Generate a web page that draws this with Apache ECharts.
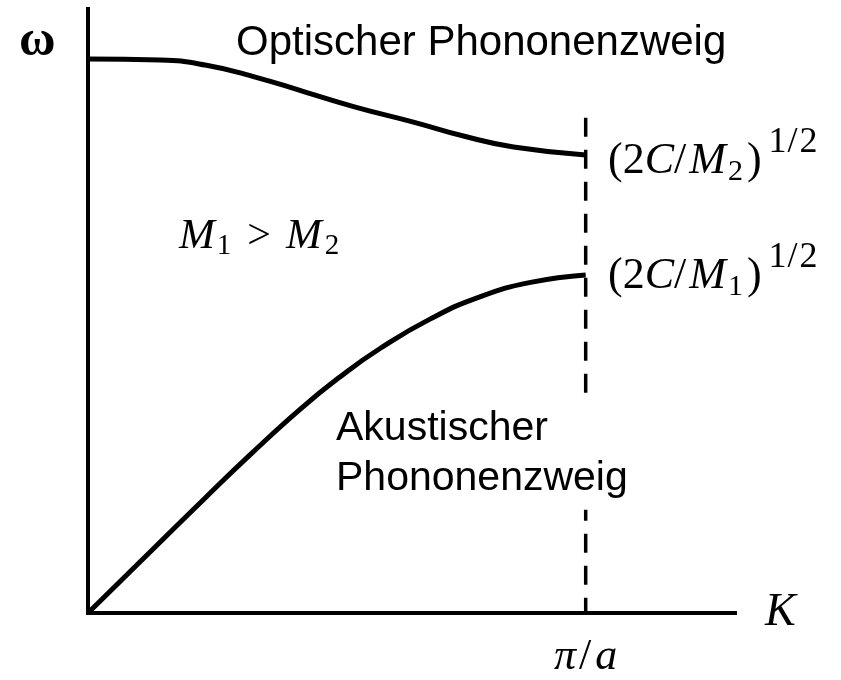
<!DOCTYPE html>
<html>
<head>
<meta charset="utf-8">
<script src="https://cdn.jsdelivr.net/npm/echarts@6/dist/echarts.min.js"></script>
<style>
  html, body { margin: 0; padding: 0; background: #fff; }
  #chart { width: 841px; height: 680px; }
</style>
</head>
<body>
<div id="chart"></div>
<script>
// Wave vector K in units of the zone boundary pi/a, frequency in arbitrary units
const kAcoustic = [0, 0.1247, 0.2354, 0.3260, 0.4266, 0.5070, 0.5875, 0.6881, 0.7887, 0.8893, 1.0];
const omegaAcoustic = [0, 0.606, 1.143, 1.573, 2.026, 2.348, 2.630, 2.922, 3.143, 3.284, 3.358];
const kOptical = [0, 0.1449, 0.2354, 0.3360, 0.4366, 0.5372, 0.6539, 0.7545, 0.8551, 1.0];
const omegaOptical = [5.503, 5.493, 5.443, 5.324, 5.175, 5.026, 4.877, 4.738, 4.629, 4.550];

// Zone boundary guide line
const zoneBoundary = 1.0;
const guideTop = 4.92;

// Axis extents
const kMax = 1.3;
const omegaMax = 6;

// Text
const yAxisTitle = 'ω';
const xAxisTitle = 'K';
const opticalTitle = 'Optischer Phononenzweig';
const acousticTitle = ['Akustischer', 'Phononenzweig'];

const SANS = '"Liberation Sans", Arial, sans-serif';
const SERIF = '"Liberation Serif", "Times New Roman", serif';

const chart = echarts.init(document.getElementById('chart'), null, { renderer: 'canvas' });

const measureCtx = document.createElement('canvas').getContext('2d');
function cssFont(size, italic, family, bold) {
  return (italic ? 'italic ' : '') + (bold ? 'bold ' : '') + size + 'px ' + family;
}
function textWidth(text, font) {
  measureCtx.font = font;
  return measureCtx.measureText(text).width;
}
// distance from the em-middle line to the alphabetic baseline
function baselineOffset(font) {
  measureCtx.font = font;
  measureCtx.textBaseline = 'middle';
  const m = measureCtx.measureText('x');
  measureCtx.textBaseline = 'alphabetic';
  return m.actualBoundingBoxDescent;
}

// Lay out a formula from pieces: [text, italic, size, rise, gapAfter, bold]
function formula(pieces, left, baseline) {
  const els = [];
  let x = left;
  pieces.forEach(function (p) {
    const font = cssFont(p[2], p[1], SERIF, p[5]);
    const off = baselineOffset(font);
    els.push({
      type: 'text',
      silent: true,
      z: 100,
      style: {
        text: p[0],
        x: x,
        y: baseline - (p[3] || 0) - off,
        fontFamily: SERIF,
        fontSize: p[2],
        fontStyle: p[1] ? 'italic' : 'normal',
        fontWeight: p[5] ? 'bold' : 'normal',
        fill: '#000',
        align: 'left',
        verticalAlign: 'middle'
      }
    });
    x += textWidth(p[0], font) + (p[4] || 0);
  });
  return els;
}

function sansLine(text, left, baseline, size) {
  const font = cssFont(size, false, SANS);
  return {
    type: 'text',
    silent: true,
    z: 100,
    style: {
      text: text,
      x: left,
      y: baseline - baselineOffset(font),
      fontFamily: SANS,
      fontSize: size,
      fill: '#000',
      align: 'left',
      verticalAlign: 'middle'
    }
  };
}

// Two-line label on a white box so the guide line stops behind it
function sansBlock(lines, left, firstBaseline, size, lineHeight) {
  const font = cssFont(size, false, SANS);
  const padTop = 7;
  return {
    type: 'text',
    silent: true,
    z: 100,
    style: {
      text: lines.join('\n'),
      x: left,
      y: firstBaseline - baselineOffset(font) - lineHeight / 2 - padTop,
      fontFamily: SANS,
      fontSize: size,
      lineHeight: lineHeight,
      fill: '#000',
      backgroundColor: '#fff',
      padding: [padTop, 4, 6, 0],
      align: 'left',
      verticalAlign: 'top'
    }
  };
}

function rootLabel(mass, left, baseline) {
  return formula([
    ['(', false, 44, 0, 0],
    ['2', false, 44, 0, 0],
    ['C', true, 44, 0, 0],
    ['/', false, 44, 0, 3],
    ['M', true, 44, 0, 2],
    [mass, false, 30, -7, 4],
    [')', false, 44, 0, 7],
    ['1', false, 36, 21, 1],
    ['/', false, 36, 21, 2],
    ['2', false, 36, 21, 0]
  ], left, baseline);
}

const graphics = []
  .concat([sansLine(opticalTitle, 236, 55, 42)])
  .concat([sansBlock(acousticTitle, 336, 440, 41, 50)])
  .concat(formula([[yAxisTitle, false, 50, 0, 0, true]], 19, 55))
  .concat(rootLabel('2', 608, 173))
  .concat(rootLabel('1', 608, 288))
  .concat(formula([
    ['M', true, 43, 0, 2],
    ['1', false, 29, -6, 16],
    ['>', false, 42, 0, 15],
    ['M', true, 43, 0, 3],
    ['2', false, 29, -6, 0]
  ], 179, 248));

const option = {
  backgroundColor: '#ffffff',
  animation: false,
  grid: { left: 88, right: 106, top: 9, bottom: 67 },
  xAxis: {
    type: 'value',
    min: 0,
    max: kMax,
    interval: 1,
    name: xAxisTitle,
    nameLocation: 'end',
    nameGap: 30,
    nameTextStyle: {
      fontFamily: SERIF, fontStyle: 'italic', fontSize: 46, color: '#000',
      verticalAlign: 'middle', padding: [8, 0, 0, 0]
    },
    axisLine: { onZero: false, lineStyle: { color: '#000', width: 4, cap: 'square' } },
    axisTick: { show: false },
    splitLine: { show: false },
    axisLabel: {
      margin: 22,
      showMaxLabel: false,
      formatter: function (v) { return v === zoneBoundary ? '{g|π}{n|/}{i|a}' : ''; },
      rich: {
        g: { fontFamily: SERIF, fontStyle: 'italic', fontSize: 44, color: '#000' },
        n: { fontFamily: SERIF, fontSize: 44, color: '#000', padding: [0, 4, 0, 3] },
        i: { fontFamily: SERIF, fontStyle: 'italic', fontSize: 44, color: '#000' }
      }
    }
  },
  yAxis: {
    type: 'value',
    min: 0,
    max: omegaMax,
    axisLine: { onZero: false, lineStyle: { color: '#000', width: 4, cap: 'square' } },
    axisTick: { show: false },
    axisLabel: { show: false },
    splitLine: { show: false }
  },
  series: [
    {
      name: 'Optischer Zweig',
      type: 'line',
      smooth: 0.5,
      symbol: 'none',
      lineStyle: { color: '#000', width: 5 },
      data: kOptical.map(function (k, i) { return [k, omegaOptical[i]]; }),
      z: 3
    },
    {
      name: 'Akustischer Zweig',
      type: 'line',
      smooth: 0.5,
      symbol: 'none',
      lineStyle: { color: '#000', width: 5 },
      data: kAcoustic.map(function (k, i) { return [k, omegaAcoustic[i]]; }),
      z: 3
    },
    {
      name: 'Zonenrand',
      type: 'line',
      symbol: 'none',
      lineStyle: { color: '#000', width: 3.5, type: [19, 13] },
      data: [[zoneBoundary, guideTop], [zoneBoundary, 0]],
      z: 2
    }
  ],
  graphic: graphics
};

chart.setOption(option);
</script>
</body>
</html>
